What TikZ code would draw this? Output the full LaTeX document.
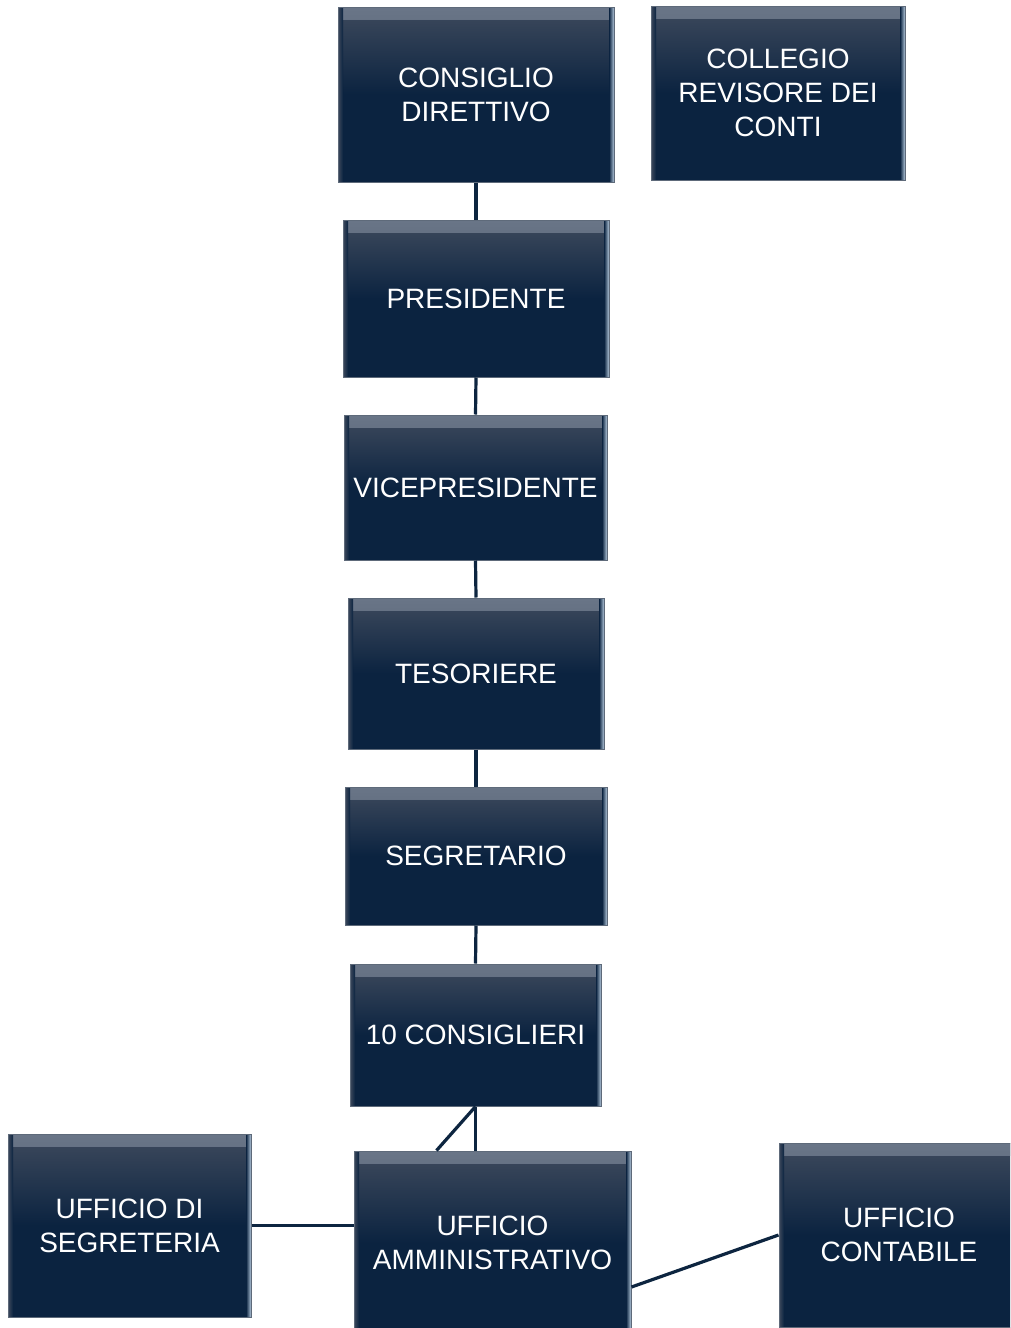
\documentclass[tikz,border=0pt]{standalone}
\usepackage{fontspec}
\newfontfamily\boxfont{Liberation Sans}
\usetikzlibrary{calc}
\definecolor{navy}{HTML}{0B2340}
\definecolor{bevtop}{HTML}{3E4A5D}
\definecolor{bevlight}{HTML}{6A7688}
\definecolor{edgelight}{HTML}{B4C8DC}
\definecolor{boxline}{HTML}{5E6A7A}
\definecolor{linkcol}{HTML}{0D2540}
\tikzset{
  orgbox/.style={rectangle, top color=bevtop, bottom color=navy, middle color=navy,
    draw=boxline, line width=1pt,
    text=white, align=center, inner sep=2pt,
    font=\boxfont\fontsize{28}{34}\selectfont,
    path picture={
      \shade[top color=bevlight, bottom color=bevtop]
        ([yshift=3pt]path picture bounding box.north west) rectangle ([yshift=-12pt]path picture bounding box.north east);
      \fill[left color=navy, right color=edgelight]
        ([xshift=-5pt]path picture bounding box.north east) rectangle (path picture bounding box.south east);
      \fill[right color=navy, left color=bevtop]
        (path picture bounding box.north west) rectangle ([xshift=5pt]path picture bounding box.south west);
    }},
  link/.style={draw=linkcol, line width=3.2pt}
}
\begin{document}
\begin{tikzpicture}[x=1pt,y=-1pt]
\useasboundingbox (0,0) rectangle (1010,1328);
\clip (0,0) rectangle (1010,1328);
\fill[white] (0,0) rectangle (1010,1328);

\node[orgbox, minimum width=276pt, minimum height=175pt] (cd) at (476,94.5) {CONSIGLIO\\DIRETTIVO};
\node[orgbox, minimum width=254pt, minimum height=174pt] (cr) at (778,93) {COLLEGIO\\REVISORE DEI\\CONTI};
\node[orgbox, minimum width=266pt, minimum height=157pt] (pr) at (476,298.5) {PRESIDENTE};
\node[orgbox, minimum width=263pt, minimum height=145pt] (vp) at (475.5,487.5) {VICEPRESIDENTE};
\node[orgbox, minimum width=256pt, minimum height=151pt] (te) at (476,673.5) {TESORIERE};
\node[orgbox, minimum width=262pt, minimum height=138pt] (se) at (476,856) {SEGRETARIO};
\node[orgbox, minimum width=251pt, minimum height=142pt] (co) at (475.5,1035) {10 CONSIGLIERI};
\node[orgbox, minimum width=243pt, minimum height=183pt] (us) at (129.5,1225.5) {UFFICIO DI\\SEGRETERIA};
\node[orgbox, minimum width=277pt, minimum height=184pt] (ua) at (492.5,1243) {UFFICIO\\AMMINISTRATIVO};
\node[orgbox, minimum width=240pt, minimum height=184pt] (uc) at (899,1235) {UFFICIO\\CONTABILE};

\draw[link] (cd.south) -- (pr.north);
\draw[link] (pr.south) -- (vp.north);
\draw[link] (vp.south) -- (te.north);
\draw[link] (te.south) -- (se.north);
\draw[link] (se.south) -- (co.north);
\draw[link] (co.south) -- (co.south |- ua.north);
\draw[link] (co.south) -- ([xshift=-56pt]ua.north);
\draw[link] (us.east) -- (us.east -| ua.west);
\draw[link] ([yshift=-44pt]ua.east) -- (uc.west);
\end{tikzpicture}
\end{document}
